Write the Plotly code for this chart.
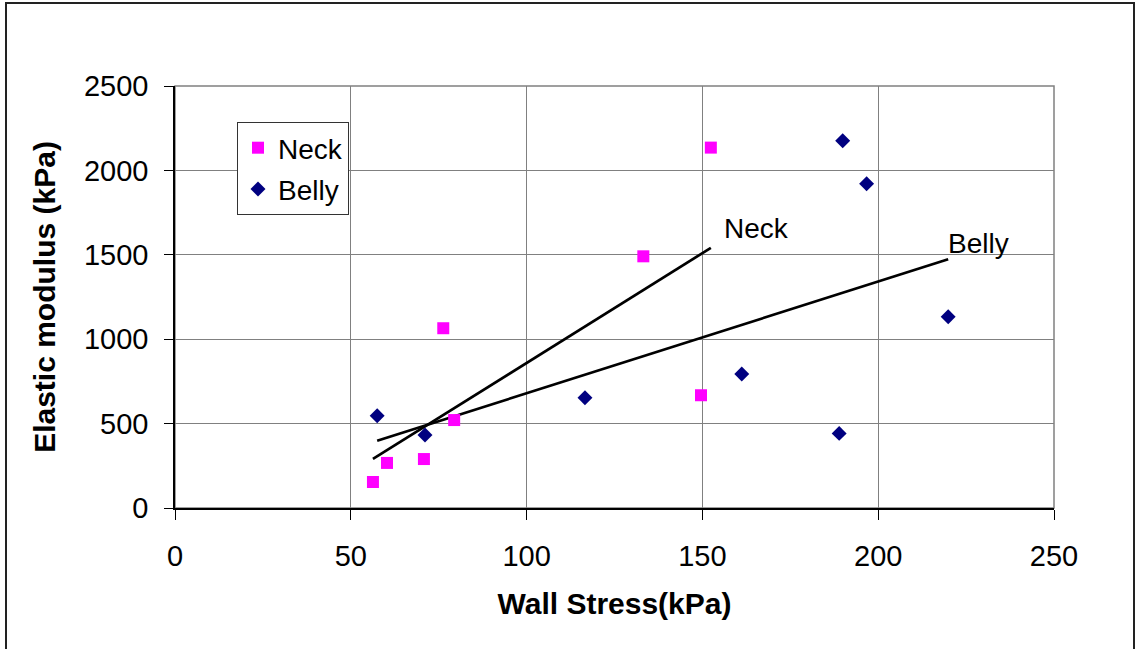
import numpy as np
import plotly.graph_objects as go

# Data
neck_stress = [56.3, 60.3, 70.8, 79.4, 76.3, 133.2, 152.4, 149.6]
neck_modulus = [154, 267, 290, 521, 1065, 1491, 2135, 668]
belly_stress = [57.5, 71.1, 116.6, 161.2, 188.9, 189.9, 196.7, 219.9]
belly_modulus = [547, 432, 653, 794, 442, 2176, 1921, 1133]

x_ticks = [0, 50, 100, 150, 200, 250]
y_ticks = [0, 500, 1000, 1500, 2000, 2500]

FONT = "Arial, 'Liberation Sans', sans-serif"
W, H = 1136, 649
ML, MR, MT, MB = 175, 82, 86, 141
PW, PH = W - ML - MR, H - MT - MB


def trend(xs, ys):
    k, b = np.polyfit(xs, ys, 1)
    xx = [min(xs), max(xs)]
    return xx, [k * v + b for v in xx]


nx, ny = trend(neck_stress, neck_modulus)
bx, by = trend(belly_stress, belly_modulus)

fig = go.Figure()
fig.add_trace(go.Scatter(x=nx, y=ny, mode="lines", line=dict(color="black", width=2.7),
                         showlegend=False, hoverinfo="skip"))
fig.add_trace(go.Scatter(x=bx, y=by, mode="lines", line=dict(color="black", width=2.7),
                         showlegend=False, hoverinfo="skip"))
fig.add_trace(go.Scatter(x=neck_stress, y=neck_modulus, mode="markers", name="Neck",
                         legendgroup="n",
                         marker=dict(symbol="square", size=12, color="#FF00FF")))
fig.add_trace(go.Scatter(x=belly_stress, y=belly_modulus, mode="markers", name="Belly",
                         legendgroup="b",
                         marker=dict(symbol="diamond", size=11.5, color="#000080")))

fig.add_annotation(x=nx[1], y=ny[1], text="Neck", showarrow=False, xshift=46, yshift=19,
                   font=dict(size=28, color="black", family=FONT))
fig.add_annotation(x=bx[1], y=by[1], text="Belly", showarrow=False, xshift=30, yshift=16,
                   font=dict(size=28, color="black", family=FONT))

# plot-area border (gray) and outer chart border
fig.add_shape(type="rect", xref="paper", yref="paper", x0=0, x1=1, y0=0, y1=1,
              line=dict(color="#808080", width=1.5), layer="below")
fig.add_shape(type="rect", xref="paper", yref="paper",
              x0=(6 - ML) / PW, x1=(1134 - ML) / PW,
              y0=(H - MB - 652) / PH, y1=(H - MB - 3) / PH,
              line=dict(color="#222222", width=2))

fig.update_layout(
    width=W, height=H,
    margin=dict(l=ML, r=MR, t=MT, b=MB),
    paper_bgcolor="white", plot_bgcolor="white",
    font=dict(family=FONT, size=28, color="black"),
    showlegend=True,
    legend=dict(x=(237 - ML) / PW, y=(H - MB - 122) / PH, xanchor="left", yanchor="top",
                bgcolor="white", bordercolor="#333333", borderwidth=1,
                font=dict(size=28, family=FONT), tracegroupgap=2,
                itemwidth=30),
)
fig.update_xaxes(range=[0, 250], tickvals=x_ticks, ticktext=[str(v) for v in x_ticks],
                 showgrid=True, gridcolor="#808080", gridwidth=1,
                 showline=True, linecolor="black", linewidth=1.5,
                 ticks="outside", ticklen=10, tickcolor="black", tickwidth=1,
                 ticklabelstandoff=11,
                 tickfont=dict(size=29, family=FONT),
                 zeroline=False,
                 title=dict(text="<b>Wall Stress(kPa)</b>", font=dict(size=30, family=FONT),
                            standoff=22))
fig.update_yaxes(range=[0, 2500], tickvals=y_ticks, ticktext=[str(v) for v in y_ticks],
                 showgrid=True, gridcolor="#808080", gridwidth=1,
                 showline=True, linecolor="black", linewidth=1.5,
                 ticks="outside", ticklen=9, tickcolor="black", tickwidth=1,
                 ticklabelstandoff=10,
                 tickfont=dict(size=29, family=FONT),
                 zeroline=False,
                 title=dict(text="<b>Elastic modulus (kPa)</b>", font=dict(size=30, family=FONT),
                            standoff=19))

fig.write_html("out.html")
